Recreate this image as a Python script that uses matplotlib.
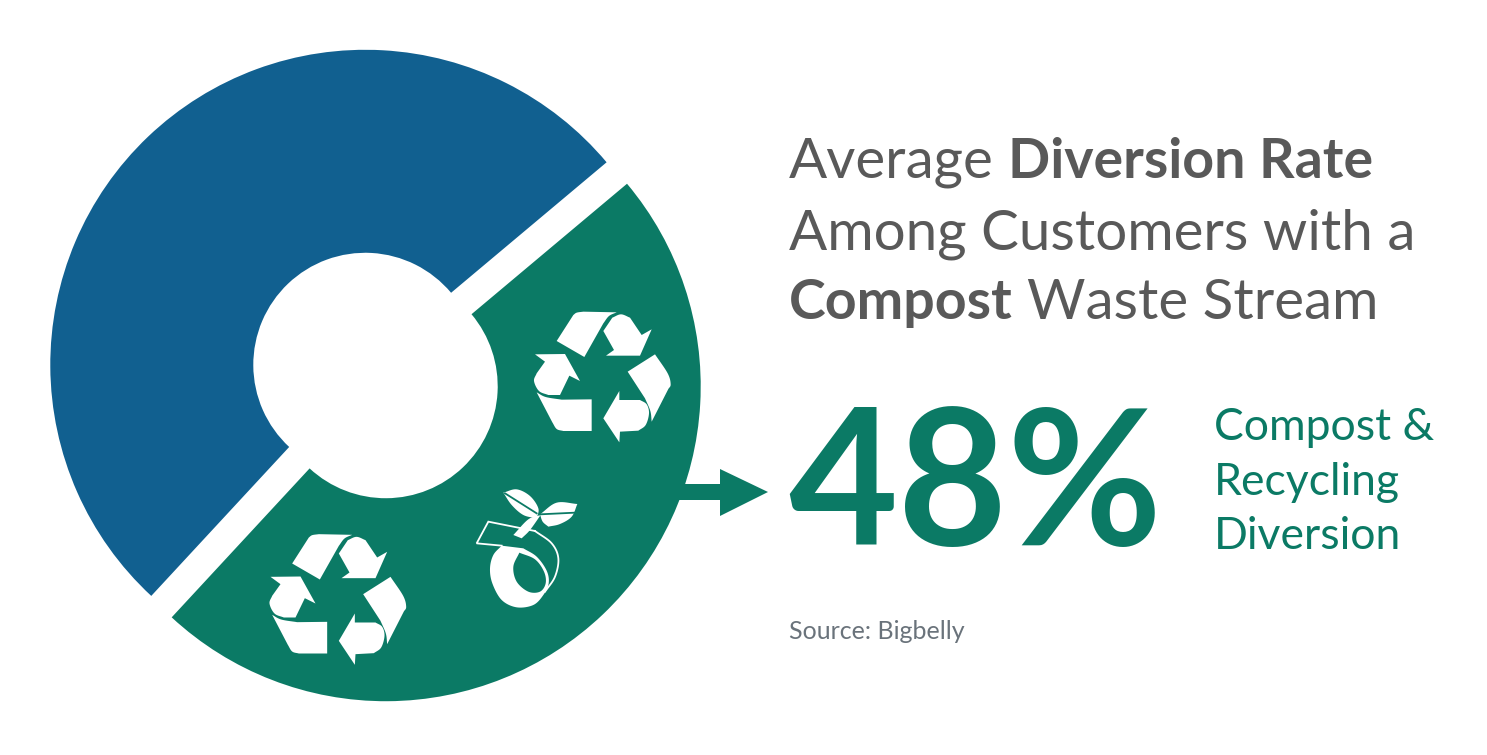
import matplotlib
matplotlib.use("Agg")
import matplotlib.pyplot as plt
from matplotlib.patches import Polygon
import numpy as np

W, H = 1487, 755
categories = ["Other", "Compost & Recycling Diversion"]
values = [52, 48]
colors = ["#116090", "#0b7a65"]
title_lines = [[("Average ", False), ("Diversion Rate", True)],
               [("Among Customers with a", False)],
               [("Compost", True), (" Waste Stream", False)]]
big_label = "48%"
side_lines = ["Compost &", "Recycling", "Diversion"]
source = "Source: Bigbelly"
FONT = "Lato"

fig = plt.figure(figsize=(W/100, H/100), dpi=100, facecolor="white")
ax = fig.add_axes([0, 0, 1, 1])
ax.pie(values, colors=colors, startangle=40.0, radius=315, center=(375.5, H-375.5),
       explode=[14.8, 14.8], wedgeprops=dict(width=203, linewidth=0), frame=False)
ax.set_xlim(0, W); ax.set_ylim(0, H); ax.set_aspect("equal"); ax.axis("off")

def px(x, y):
    return (x, H-y)

r = fig.canvas.get_renderer()
def width(s, **kw):
    t = ax.text(0, 0, s, alpha=0, **kw)
    w = t.get_window_extent(r).width
    t.remove()
    return w

for (segs, y) in zip(title_lines, [178, 249, 319]):
    x = 789
    for s, b in segs:
        kw = dict(fontsize=40 if b else 40.7, family=FONT, fontweight="bold" if b else "normal")
        lead = len(s) - len(s.lstrip())
        trail = len(s) - len(s.rstrip())
        sp_w = width("n n", **kw) - width("nn", **kw)
        x += lead * sp_w
        ax.text(x, H-y, s.strip(), color="#595959", va="baseline", ha="left", **kw)
        x += width(s.strip(), **kw) + trail * sp_w

ax.text(788, H-545, big_label, fontsize=136, family=FONT, fontweight="bold", color=colors[1], va="baseline")
for s, y in zip(side_lines, [440, 495, 549]):
    ax.text(1214, H-y, s, fontsize=32, family=FONT, color=colors[1], va="baseline")
ax.text(789, H-639, source, fontsize=18, family=FONT, color="#6a737b", va="baseline")

# Arrow
ax.add_patch(Polygon([px(676,484), px(720,484), px(720,469), px(768,492), px(720,516), px(720,500), px(676,500)],
                     closed=True, fc=colors[1], ec="none"))

def spline(run, n=10):
    """Catmull-Rom curve through one run of outline points; two points give a straight edge."""
    pts = np.array(run, float)
    if len(pts) < 3:
        return pts
    p = np.vstack([2*pts[0]-pts[1], pts, 2*pts[-1]-pts[-2]])
    out = []
    for i in range(1, len(p)-2):
        for t in np.linspace(0, 1, n, endpoint=False):
            out.append(0.5*((2*p[i]) + (p[i+1]-p[i-1])*t
                            + (2*p[i-1]-5*p[i]+4*p[i+1]-p[i+2])*t**2
                            + (3*p[i]-p[i-1]-3*p[i+1]+p[i+2])*t**3))
    out.append(pts[-1])
    return np.array(out)

def outline(runs):
    return np.vstack([spline(run) for run in runs])

def straight(*pts):
    return [[pts[i], pts[i+1]] for i in range(len(pts)-1)]

# Recycling icon: each piece is a list of runs
pieces = [
    straight((95,108),(145,30)) + [[(145,30),(155,23),(175,20)]] + straight((175,20),(275,22))
        + [[(275,22),(252,33),(235,55)]] + straight((235,55),(178,156)),
    straight((235,78),(262,38)) + [[(262,38),(288,28),(315,38)]]
        + straight((315,38),(350,90),(380,73),(345,152),(243,152),(267,135),(235,78)),
    straight((308,200),(390,148)) + [[(390,148),(428,205),(437,238),(430,252)]] + straight((430,252),(380,350))
        + [[(380,350),(376,318),(360,280)]] + straight((360,280),(308,200)),
    straight((235,340),(283,258),(283,285),(345,285)) + [[(345,285),(365,298),(372,325),(362,360),(340,377)]]
        + straight((340,377),(285,380),(283,412),(235,340)),
    [[(35,262),(62,276),(110,284)]] + straight((110,284),(200,283),(200,378),(115,378))
        + [[(115,378),(95,372),(82,352)]] + straight((82,352),(35,262)),
    straight((30,148),(120,147),(165,228),(133,212),(105,270),(70,270)) + [[(70,270),(42,258),(27,228),(35,205)]]
        + straight((35,205),(60,170),(30,148)),
]
for (ox, oy) in [(525, 305), (260.5, 527.5)]:
    for p in pieces:
        o = outline(p)
        ax.add_patch(Polygon([px(ox+a/3, oy+b/3) for a, b in o], closed=True, fc="white", ec="none"))

# Sprout icon
def sp(o):
    return [px(460+a/3, 480+b/3) for a, b in o]
white = [
    [[(130,38),(170,28),(210,48),(235,85),(230,115)], [(230,115),(190,105),(155,75),(130,38)]],
    [[(240,103),(290,68),(352,72)], [(352,72),(335,110),(300,132),(265,140)], [(265,140),(248,125),(240,103)]],
    [[(160,165),(205,118),(242,105)], [(242,105),(210,150),(185,175)], [(185,175),(160,165)]],
    [[(125,197),(100,225),(90,265),(97,310),(125,360),(170,382),(220,375),(250,345),(266,310),(260,272),(230,230),(190,205)], [(190,205),(125,197)]],
]
for p in white:
    ax.add_patch(Polygon(sp(outline(p)), closed=True, fc="white", ec="none"))
hole = [[(178,218),(160,260),(170,305),(205,335),(240,335),(257,310),(252,275),(225,238),(178,218)]]
ax.add_patch(Polygon(sp(outline(hole)), closed=True, fc=colors[1], ec="none"))
for run, c in [([(135,40),(230,100)], colors[1]), ([(240,103),(345,98)], colors[1]),
               ([(125,197),(50,190),(85,125),(225,153)], "white")]:
    xy = np.array(sp(run))
    ax.plot(xy[:,0], xy[:,1], color=c, lw=1.3, solid_joinstyle="miter")
xy = np.array(sp(spline([(225,153),(275,190),(295,235),(285,290),(255,335)])))
ax.plot(xy[:,0], xy[:,1], color="white", lw=1.3)

fig.savefig("out.png", dpi=100, facecolor="white")
